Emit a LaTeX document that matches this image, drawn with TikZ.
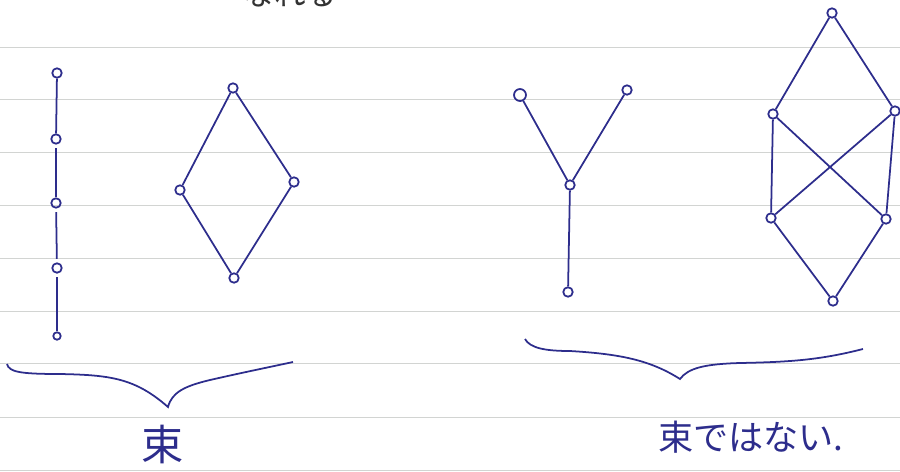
\documentclass[tikz,border=0pt]{standalone}
\usepackage{fontspec}
\newfontfamily\jpfont{Noto Sans CJK JP}
\definecolor{ink}{RGB}{45,45,140}
\definecolor{rule}{RGB}{210,212,210}
\tikzset{
  vtx/.style={circle,draw=ink,line width=1pt,inner sep=0pt,minimum size=0.19cm},
  edge/.style={draw=ink,line width=1pt},
}
\begin{document}
\begin{tikzpicture}[x=0.02cm,y=-0.02cm]
  \useasboundingbox (0,0) rectangle (900,471);
  % ruled lines of the notebook
  \foreach \ly in {47,99,152,205,258,311,363,417,470}
    \draw[rule,line width=0.5pt] (0,\ly) -- (900,\ly);
  % cut-off text at the top
  \node[anchor=south,inner sep=0pt,text=black!80,font=\jpfont\fontsize{18}{18}\selectfont] (top) at (290,7) {なれる};
  % chain
  \node[vtx] (c1) at (57,73) {};
  \node[vtx] (c2) at (56,139) {};
  \node[vtx] (c3) at (56,203) {};
  \node[vtx] (c4) at (57,268) {};
  \node[vtx,minimum size=0.15cm] (c5) at (57,336) {};
  \draw[edge] (c1) -- (c2);
  \draw[edge,shorten <=2pt] (c2) -- (c3);
  \draw[edge,shorten <=2pt,shorten >=2pt] (c3) -- (c4);
  \draw[edge,shorten <=2pt] (c4) -- (c5);
  % diamond
  \node[vtx] (d1) at (233,88) {};
  \node[vtx] (d2) at (180,190) {};
  \node[vtx] (d3) at (294,182) {};
  \node[vtx] (d4) at (234,278) {};
  \draw[edge] (d1) -- (d2);
  \draw[edge] (d1) -- (d3);
  \draw[edge] (d2) -- (d4);
  \draw[edge] (d3) -- (d4);
  % Y shape
  \node[vtx,minimum size=0.24cm] (y1) at (520,95) {};
  \node[vtx] (y2) at (627,90) {};
  \node[vtx] (y3) at (570,185) {};
  \node[vtx] (y4) at (568,292) {};
  \draw[edge] (y1) -- (y3);
  \draw[edge] (y2) -- (y3);
  \draw[edge] (y3) -- (y4);
  % crossed lattice
  \node[vtx] (h1) at (832,13) {};
  \node[vtx] (h2) at (773,114) {};
  \node[vtx] (h3) at (895,111) {};
  \node[vtx] (h4) at (771,218) {};
  \node[vtx] (h5) at (886,219) {};
  \node[vtx] (h6) at (833,301) {};
  \draw[edge] (h1) -- (h2);
  \draw[edge] (h1) -- (h3);
  \draw[edge] (h2) -- (h4);
  \draw[edge] (h2) -- (h5);
  \draw[edge] (h3) -- (h4);
  \draw[edge] (h3) -- (h5);
  \draw[edge] (h4) -- (h6);
  \draw[edge] (h5) -- (h6);
  % braces
  \draw[edge] (7,364) .. controls (9,372) and (20,374) .. (60,374)
    .. controls (110,375) and (135,378) .. (168,407)
    .. controls (172,392) and (185,386) .. (210,380)
    .. controls (245,372) and (270,367) .. (293,362);
  \draw[edge] (525,339) .. controls (530,348) and (545,351) .. (570,351)
    .. controls (620,354) and (650,360) .. (680,379)
    .. controls (688,368) and (705,364) .. (740,363)
    .. controls (790,362) and (820,360) .. (863,349);
  % labels
  \node[text=ink,font=\jpfont\fontsize{24}{24}\selectfont] (l1) at (163,444) {束};
  \node[anchor=west,text=ink,font=\jpfont\fontsize{20}{20}\selectfont] (l2) at (652,437) {束ではない.};
\end{tikzpicture}
\end{document}
